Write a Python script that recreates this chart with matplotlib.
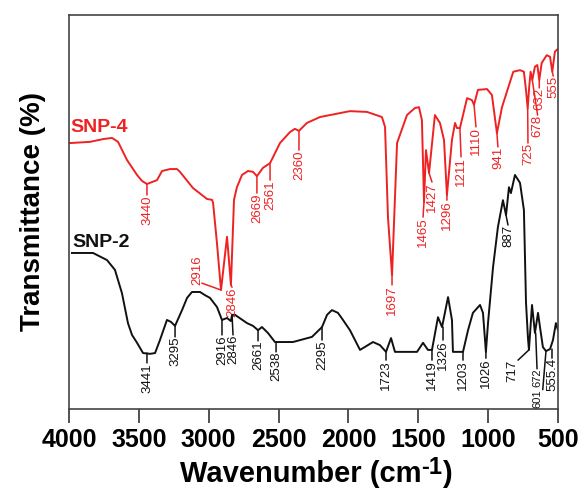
import matplotlib
matplotlib.use('Agg')
import matplotlib.pyplot as plt

plt.rcParams['font.family'] = ['Liberation Sans', 'DejaVu Sans']

# spectre SNP-4 (rouge)
snp4_wn = [3993, 3850, 3757, 3692, 3649, 3585, 3513, 3478, 3442, 3406, 3370, 3334,
           3277, 3227, 3206, 3113, 3012, 2977, 2969, 2941, 2912, 2869, 2841, 2819,
           2798, 2762, 2719, 2683, 2655, 2612, 2561, 2490, 2418, 2383, 2354, 2297,
           2204, 1989, 1867, 1760, 1738, 1717, 1688, 1652, 1581, 1524, 1495, 1474,
           1459, 1445, 1423, 1381, 1345, 1316, 1295, 1259, 1237, 1223, 1202, 1151,
           1116, 1101, 1073, 1008, 973, 937, 901, 820, 772, 744, 729, 717,
           706, 696, 684, 665, 648, 634, 617, 581, 557, 541, 522, 498]
snp4_t = [67.5, 67.8, 68.5, 68.8, 67.8, 63.2, 59.4, 57.9, 57.1, 57.6, 58.1, 60.4,
          60.9, 60.9, 60.2, 56.1, 53.3, 53.1, 52.4, 42.1, 30.2, 43.7, 31.5, 53.1,
          56.3, 59.4, 60.4, 60.2, 59.1, 61.2, 62.4, 67.5, 70.3, 71.1, 70.6, 72.6,
          74.1, 75.6, 75.4, 74.1, 71.6, 48.7, 34.0, 67.5, 74.6, 76.4, 76.6, 73.3,
          52.5, 65.7, 59.9, 74.6, 72.6, 68.3, 54.3, 68.3, 72.6, 71.3, 71.3, 78.9,
          78.4, 77.2, 81.0, 81.2, 79.7, 70.0, 76.6, 85.6, 86.0, 85.6, 80.9, 76.3,
          81.8, 85.6, 83.5, 86.9, 87.3, 83.5, 87.8, 89.8, 89.4, 85.6, 90.7, 91.5]

# spectre SNP-2 (noir)
snp2_wn = [3979, 3828, 3728, 3671, 3621, 3578, 3549, 3513, 3470, 3420, 3384, 3349,
           3299, 3270, 3241, 3191, 3155, 3120, 3062, 3027, 2991, 2941, 2905, 2869,
           2841, 2833, 2812, 2726, 2683, 2647, 2619, 2576, 2526, 2397, 2261, 2189,
           2153, 2118, 2075, 2039, 1989, 1917, 1824, 1774, 1731, 1695, 1667, 1509,
           1466, 1431, 1402, 1359, 1330, 1287, 1259, 1252, 1180, 1144, 1109, 1058,
           1037, 1016, 1001, 965, 930, 894, 872, 851, 837, 808, 772, 744,
           729, 715, 708, 686, 665, 643, 629, 608, 586, 557, 536, 515, 500]
snp2_t = [39.6, 39.6, 37.8, 35.3, 29.4, 21.8, 18.8, 16.8, 14.2, 14.0, 14.2, 17.5,
          22.6, 22.1, 21.1, 25.1, 28.2, 29.7, 29.7, 28.9, 28.2, 25.9, 22.6, 23.1,
          22.3, 23.9, 23.9, 21.8, 21.1, 20.0, 20.8, 19.3, 17.0, 17.0, 18.3, 20.8,
          23.9, 25.1, 24.4, 22.6, 20.0, 15.0, 17.0, 16.2, 14.5, 18.0, 14.5, 14.5,
          16.8, 15.0, 15.0, 23.3, 20.8, 28.4, 22.6, 14.5, 14.5, 20.0, 24.4, 26.4,
          24.4, 14.5, 21.8, 36.0, 46.2, 53.0, 49.2, 56.3, 54.8, 59.4, 57.4, 50.5,
          27.0, 18.0, 15.0, 26.4, 19.3, 24.4, 20.8, 15.7, 14.7, 15.2, 17.5, 21.8, 20.0]

# pics annotés : texte, position du pic (wn, T)
snp4_peaks = ['3440', '2916', '2846', '2669', '2561', '2360', '1697', '1465', '1427',
              '1296', '1211', '1110', '941', '725', '678', '632', '555']
snp4_peak_wn = [3442, 2912, 2841, 2655, 2561, 2354, 1688, 1459, 1423,
                1295, 1202, 1101, 937, 717, 684, 634, 541]
snp4_peak_t = [57.1, 30.2, 31.5, 59.1, 62.4, 70.6, 34.0, 52.5, 59.9,
               54.3, 71.3, 77.2, 70.0, 76.3, 83.5, 83.5, 85.6]

snp2_peaks = ['3441', '3295', '2916', '2846', '2661', '2538', '2295', '1723', '1419',
              '1326', '1203', '1026', '887', '717', '672', '601', '555.4']
snp2_peak_wn = [3442, 3241, 2905, 2833, 2647, 2518, 2189, 1731, 1402,
                1323, 1180, 1016, 872, 708, 660, 586, 543]
snp2_peak_t = [14.2, 21.1, 22.6, 23.9, 20.0, 17.0, 20.8, 14.5, 15.0,
               20.8, 14.5, 14.5, 49.2, 15.0, 19.3, 14.7, 15.2]

x_ticks = [4000, 3500, 3000, 2500, 2000, 1500, 1000, 500]

RED = '#ee2222'
BLACK = '#111111'

# placement des étiquettes (x du texte, haut du texte, point d'attache, taille)
snp4_place = [(3442, 54.3, (0.5, 1), 9.5), (3084, 39.1, (0.9, 0.05), 9.5),
              (2833, 30.9, (0.5, 1), 9.5), (2655, 54.8, (0.5, 1), 9.5),
              (2561, 58.1, (0.5, 1), 9.5), (2354, 65.7, (0.5, 1), 9.5),
              (1688, 31.5, (0.5, 1), 9.5), (1466, 48.7, (0.5, 1), 9.5),
              (1402, 57.6, (0.5, 1), 9.5), (1295, 53.0, (0.5, 1), 9.5),
              (1194, 64.0, (0.5, 1), 9.5), (1087, 71.6, (0.5, 1), 9.5),
              (930, 66.5, (0.5, 1), 9.5), (715, 67.5, (0.5, 1), 9.5),
              (646, 74.6, (0.5, 1), 9.5), (634, 81.5, (0.5, 1), 9.5),
              (534, 84.5, (0.5, 1), 9.5)]
snp2_place = [(3442, 11.7, (0.5, 1), 9.5), (3241, 18.3, (0.5, 1), 9.5),
              (2905, 18.8, (0.5, 1), 9.5), (2826, 18.8, (0.5, 1), 9.5),
              (2647, 17.3, (0.5, 1), 9.5), (2518, 14.5, (0.5, 1), 9.5),
              (2189, 17.5, (0.5, 1), 9.5), (1731, 12.4, (0.5, 1), 9.5),
              (1402, 12.4, (0.5, 1), 9.5), (1323, 17.5, (0.5, 1), 9.5),
              (1180, 12.4, (0.5, 1), 9.5), (1016, 12.9, (0.5, 1), 9.5),
              (858, 46.7, (0.5, 1), 9.5), (829, 12.4, (1, 1), 9.5),
              (650, 10.2, (0.5, 1), 8), (645, 4.9, (1, 1), 8),
              (543, 12.9, (0.5, 1), 9.5)]


def label_peaks(ax, labels, wn, t, place, color):
    for lab, w, y, (tw, ty, rel, size) in zip(labels, wn, t, place):
        ax.annotate(lab, xy=(w, y), xytext=(tw, ty), rotation=90,
                    ha='center', va='top', fontsize=size, color=color,
                    arrowprops=dict(arrowstyle='-', color=color, lw=1.1,
                                    shrinkA=0, shrinkB=0, patchA=None,
                                    relpos=rel))


fig = plt.figure(figsize=(5.8, 4.88), dpi=100)
ax = fig.add_axes([69 / 580, 1 - 409 / 488, 489 / 580, 394 / 488])

ax.plot(snp4_wn, snp4_t, color=RED, lw=1.4)
ax.plot(snp2_wn, snp2_t, color=BLACK, lw=1.4)

label_peaks(ax, snp4_peaks, snp4_peak_wn, snp4_peak_t, snp4_place, RED)
label_peaks(ax, snp2_peaks, snp2_peak_wn, snp2_peak_t, snp2_place, BLACK)

ax.text(3990, 70.3, 'SNP-4', color=RED, fontsize=14, fontweight='bold', va='baseline')
ax.text(3974, 41.1, 'SNP-2', color=BLACK, fontsize=14, fontweight='bold', va='baseline')

ax.set_xlim(4000, 500)
ax.set_ylim(0, 100)
ax.set_xticks(x_ticks, labels=[str(v) for v in x_ticks], fontweight='bold')
ax.set_yticks([])
ax.tick_params(axis='x', length=10, width=1.2, labelsize=18, pad=4, color='#333333')
for s in ax.spines.values():
    s.set_color('#444444')
    s.set_linewidth(1.2)

fig.text(33 / 580, 1 - 212 / 488, 'Transmittance (%)', rotation=90, ha='center',
         va='center', fontsize=20, fontweight='bold')

t1 = fig.text(180 / 580, 6 / 488, 'Wavenumber (cm', fontsize=21, fontweight='bold',
              ha='left', va='baseline')
t2 = ax.annotate('-1', xy=(1, 14), xycoords=(t1, 'figure pixels'), fontsize=17,
                 fontweight='bold', ha='left', va='baseline', annotation_clip=False)
ax.annotate(')', xy=(1, 6), xycoords=(t2, 'figure pixels'), fontsize=21,
            fontweight='bold', ha='left', va='baseline', annotation_clip=False)

fig.savefig('out.png', dpi=100)
